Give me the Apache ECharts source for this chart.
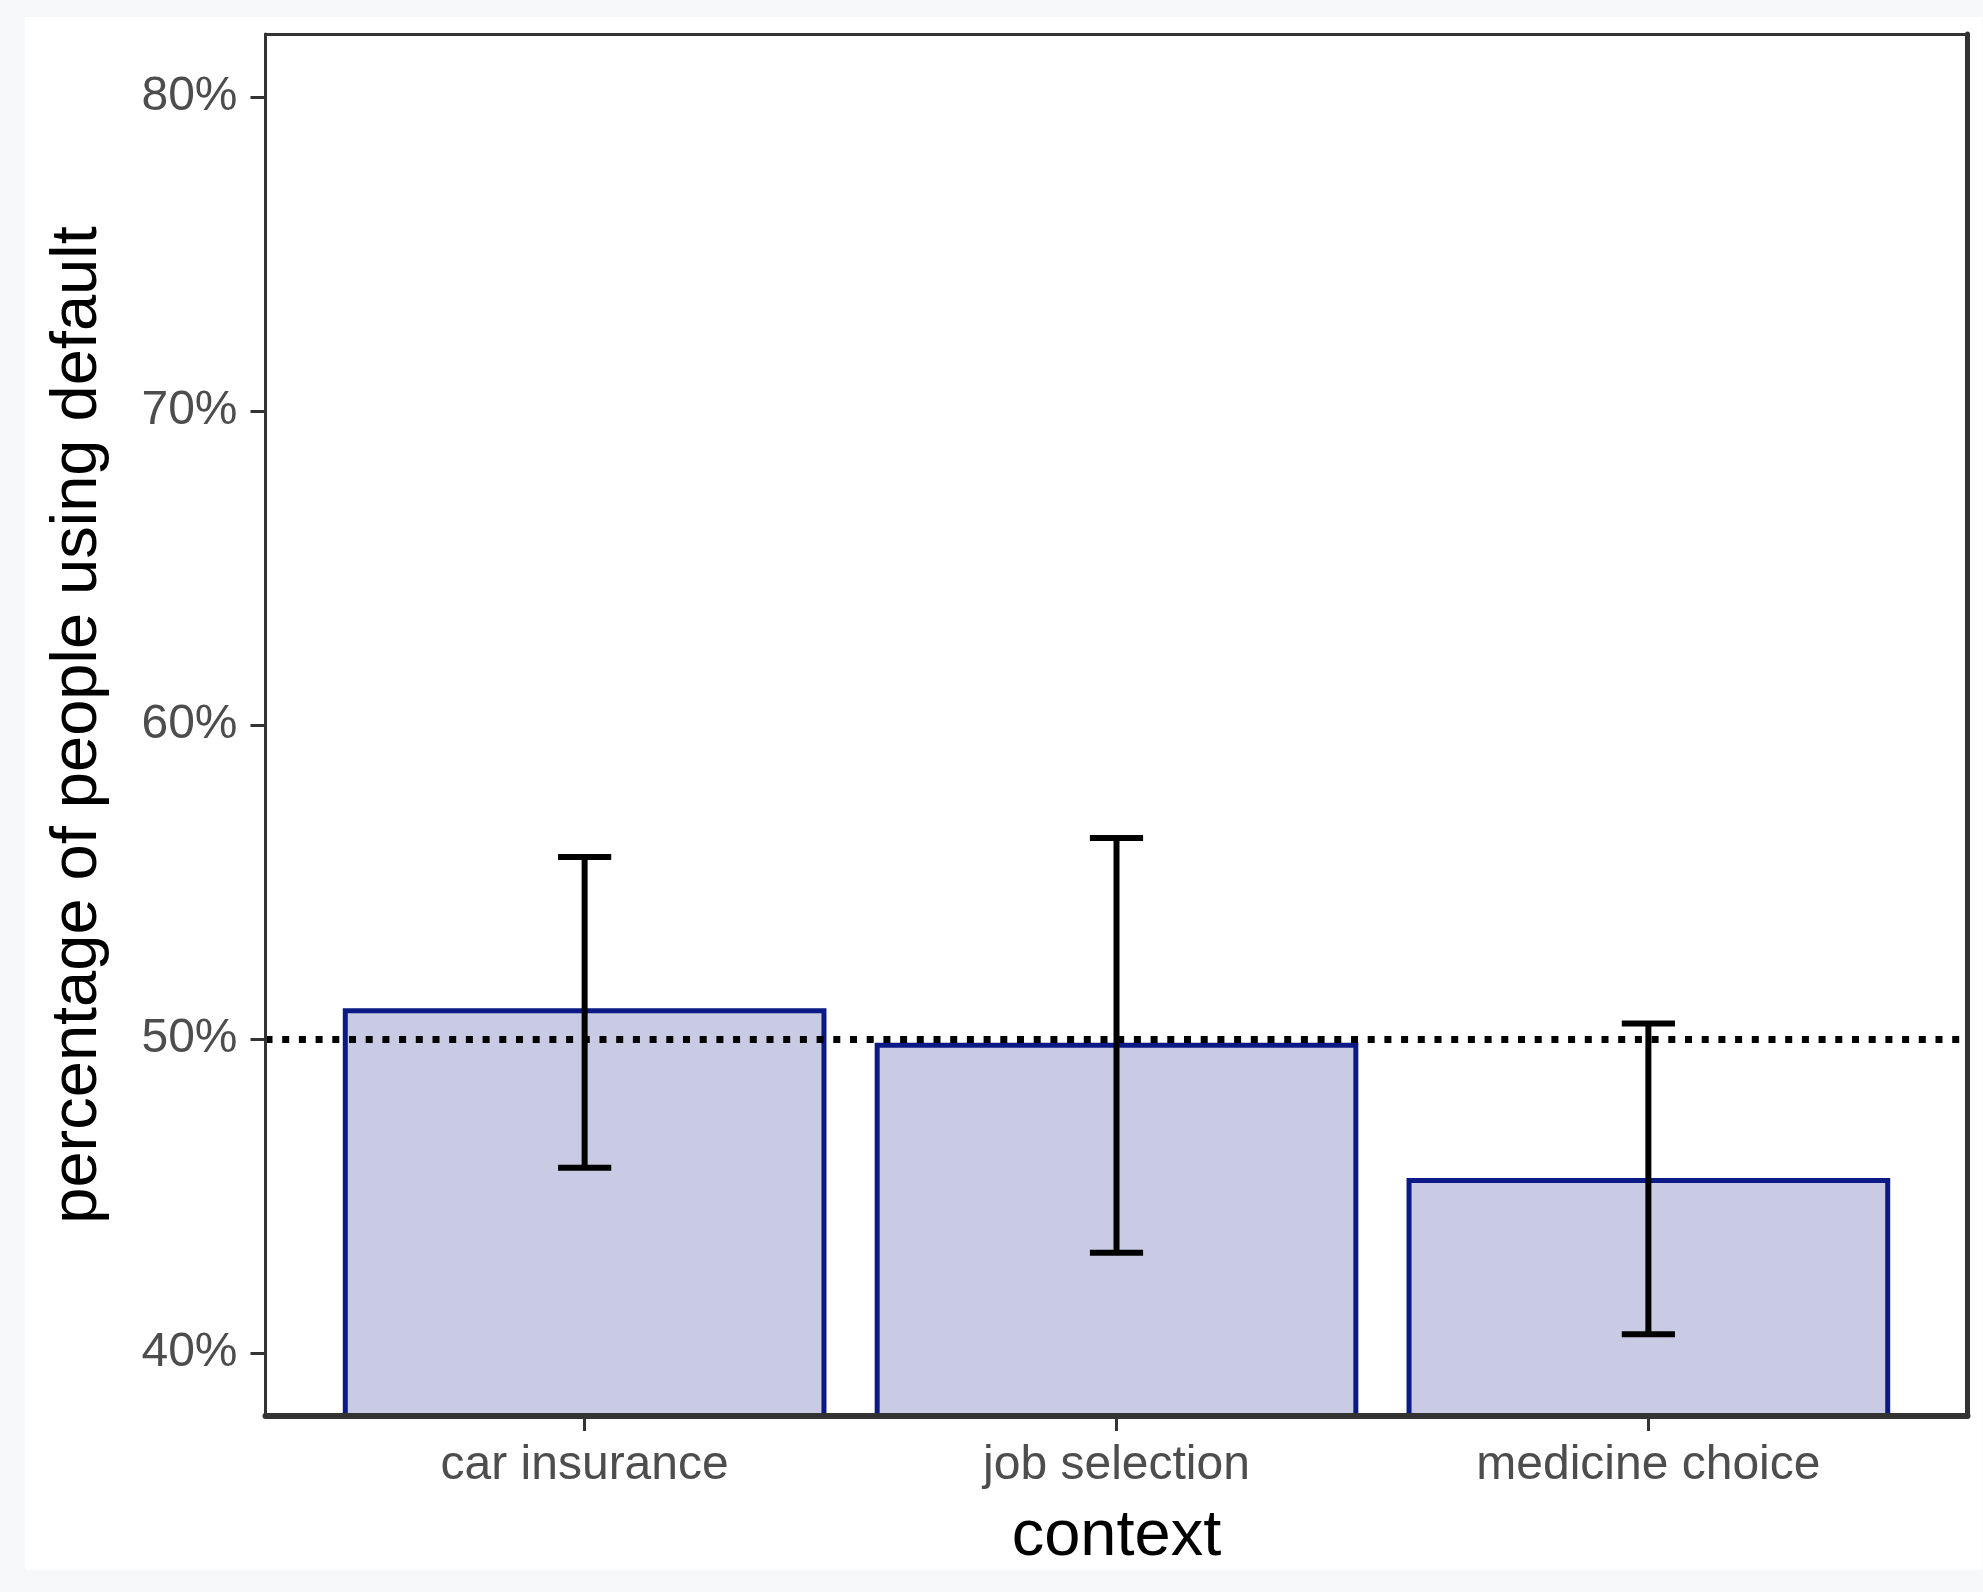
<!DOCTYPE html>
<html>
<head>
<meta charset="utf-8">
<script src="https://cdn.jsdelivr.net/npm/echarts@6/dist/echarts.min.js"></script>
<style>
  html, body { margin: 0; padding: 0; background: #f6f8fa; }
  #paper { position: absolute; left: 25px; top: 17px; width: 1957px; height: 1553px; background: #ffffff; }
  #main { position: absolute; left: 0; top: 0; width: 1983px; height: 1592px; }
</style>
</head>
<body>
<div id="paper"></div>
<div id="main"></div>
<script>
// values (percent)
var categories = ['car insurance', 'job selection', 'medicine choice'];
var shareDefault = [50.9, 49.8, 45.5];
var ciLow = [45.9, 43.2, 40.6];
var ciHigh = [55.8, 56.4, 50.5];
var yTicks = [40, 50, 60, 70, 80];
var chanceLevel = 50;

var yMin = 38, yMax = 82;
var fontFamily = '"Liberation Sans", Arial, Helvetica, sans-serif';

var barData = categories.map(function (c, i) { return [i + 1, shareDefault[i]]; });
var errData = categories.map(function (c, i) { return [i + 1, ciLow[i], ciHigh[i]]; });

var chart = echarts.init(document.getElementById('main'));

var option = {
    backgroundColor: 'transparent',
    animation: false,
    grid: {
        left: 265.5,
        right: 15.5,
        top: 34,
        bottom: 176,
        show: false
    },
    xAxis: [
        {
            type: 'value',
            min: 0.4,
            max: 3.6,
            z: 10,
            splitLine: { show: false },
            axisLine: { show: true, lineStyle: { color: '#333333', width: 6 } },
            axisTick: { show: true, length: 15, customValues: [1, 2, 3], lineStyle: { color: '#333333', width: 3 } },
            axisLabel: {
                customValues: [1, 2, 3],
                margin: 26,
                fontSize: 48,
                color: '#4d4d4d',
                fontFamily: fontFamily,
                formatter: function (v) { return categories[Math.round(v) - 1]; }
            },
            name: 'context',
            nameLocation: 'middle',
            nameGap: 89,
            nameTextStyle: { fontSize: 65, color: '#000000', fontFamily: fontFamily }
        },
        {
            type: 'value',
            position: 'top',
            min: 0.4,
            max: 3.6,
            z: 10,
            splitLine: { show: false },
            axisLine: { show: true, lineStyle: { color: '#333333', width: 3 } },
            axisTick: { show: false },
            axisLabel: { show: false }
        }
    ],
    yAxis: [
        {
            type: 'value',
            min: yMin,
            max: yMax,
            z: 10,
            splitLine: { show: false },
            axisLine: { show: true, lineStyle: { color: '#333333', width: 3 } },
            axisTick: { show: true, length: 15, customValues: yTicks, lineStyle: { color: '#333333', width: 3 } },
            axisLabel: {
                customValues: yTicks,
                margin: 28,
                fontSize: 48,
                color: '#4d4d4d',
                fontFamily: fontFamily,
                formatter: function (v) { return v + '%'; }
            },
            name: 'percentage of people using default',
            nameLocation: 'middle',
            nameGap: 155,
            nameTextStyle: { fontSize: 65, color: '#000000', fontFamily: fontFamily }
        },
        {
            type: 'value',
            position: 'right',
            min: yMin,
            max: yMax,
            z: 10,
            splitLine: { show: false },
            axisLine: { show: true, lineStyle: { color: '#333333', width: 5 } },
            axisTick: { show: false },
            axisLabel: { show: false }
        }
    ],
    series: [
        {
            name: 'share',
            type: 'custom',
            clip: true,
            z: 2,
            data: barData,
            renderItem: function (params, api) {
                var x = api.value(0);
                var y = api.value(1);
                var p0 = api.coord([x - 0.45, y]);
                var p1 = api.coord([x + 0.45, yMin - 0.3]);
                return {
                    type: 'rect',
                    shape: { x: p0[0], y: p0[1], width: p1[0] - p0[0], height: p1[1] - p0[1] },
                    style: { fill: '#c9cae3', stroke: '#0c1a86', lineWidth: 5 }
                };
            },
            markLine: {
                silent: true,
                symbol: 'none',
                z: 3,
                label: { show: false },
                lineStyle: { color: '#000000', width: 7, type: [7, 9.7] },
                data: [{ yAxis: chanceLevel }]
            }
        },
        {
            name: 'ci',
            type: 'custom',
            z: 4,
            data: errData,
            renderItem: function (params, api) {
                var x = api.value(0);
                var lo = api.coord([x, api.value(1)]);
                var hi = api.coord([x, api.value(2)]);
                var half = api.size([0.05, 0])[0];
                var st = { stroke: '#000000', lineWidth: 6 };
                return {
                    type: 'group',
                    children: [
                        { type: 'line', shape: { x1: lo[0], y1: lo[1], x2: hi[0], y2: hi[1] }, style: st },
                        { type: 'line', shape: { x1: hi[0] - half, y1: hi[1], x2: hi[0] + half, y2: hi[1] }, style: st },
                        { type: 'line', shape: { x1: lo[0] - half, y1: lo[1], x2: lo[0] + half, y2: lo[1] }, style: st }
                    ]
                };
            }
        }
    ]
};

chart.setOption(option);
</script>
</body>
</html>
